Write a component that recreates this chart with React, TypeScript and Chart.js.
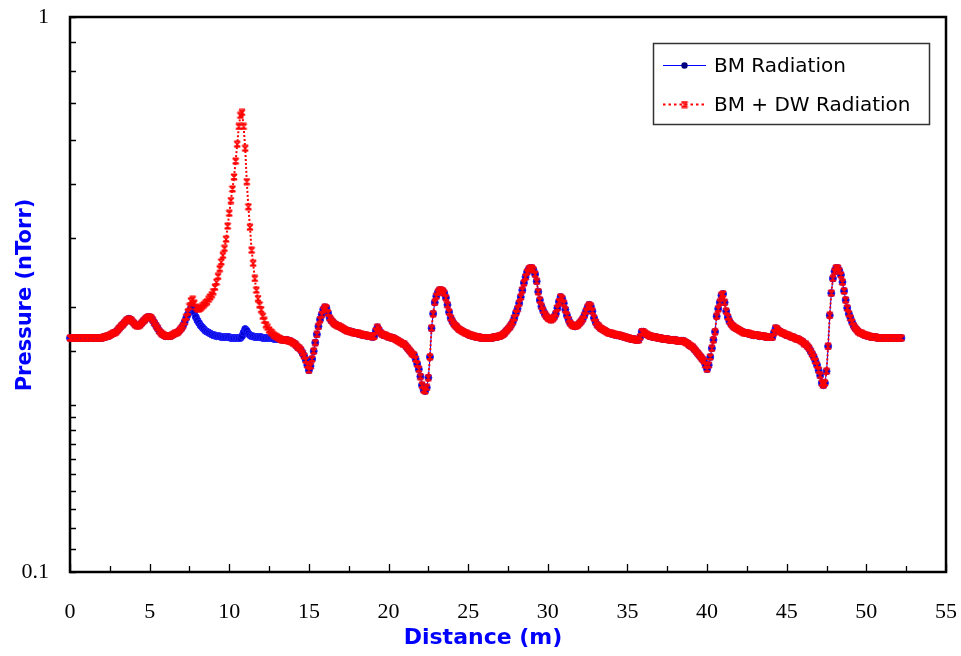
import React, { useEffect, useRef } from 'react';
import { Chart, registerables } from 'chart.js';

Chart.register(...registerables);

// ---- Data (pressure in nTorr, sampled every 0.1 m from 0 m) ----
const distanceStart = 0;
const distanceStep = 0.1;

const bmRadiation = [
  0.264, 0.264, 0.264, 0.264, 0.264, 0.264, 0.264, 0.264, 0.264, 0.264,
  0.264, 0.264, 0.264, 0.264, 0.264, 0.264, 0.264, 0.264, 0.264, 0.264,
  0.264, 0.265, 0.265, 0.266, 0.266, 0.267, 0.268, 0.269, 0.270, 0.271,
  0.273, 0.275, 0.277, 0.279, 0.281, 0.283, 0.285, 0.286, 0.285, 0.283,
  0.281, 0.279, 0.278, 0.278, 0.279, 0.281, 0.283, 0.285, 0.287, 0.288,
  0.288, 0.287, 0.284, 0.281, 0.278, 0.275, 0.272, 0.270, 0.268, 0.267,
  0.266, 0.266, 0.266, 0.266, 0.267, 0.268, 0.269, 0.270, 0.271, 0.273,
  0.275, 0.278, 0.282, 0.287, 0.291, 0.295, 0.299, 0.300, 0.294, 0.288,
  0.284, 0.281, 0.278, 0.276, 0.274, 0.272, 0.271, 0.270, 0.269, 0.268,
  0.267, 0.267, 0.266, 0.266, 0.266, 0.265, 0.265, 0.265, 0.265, 0.265,
  0.265, 0.264, 0.264, 0.264, 0.264, 0.264, 0.264, 0.264, 0.266, 0.270,
  0.274, 0.272, 0.269, 0.267, 0.266, 0.266, 0.265, 0.265, 0.265, 0.265,
  0.265, 0.264, 0.264, 0.264, 0.264, 0.264, 0.264, 0.264, 0.263, 0.263,
  0.263, 0.263, 0.263, 0.262, 0.262, 0.262, 0.262, 0.261, 0.261, 0.260,
  0.259, 0.258, 0.256, 0.254, 0.253, 0.251, 0.248, 0.245, 0.241, 0.236,
  0.231, 0.235, 0.242, 0.250, 0.259, 0.268, 0.277, 0.285, 0.291, 0.297,
  0.300, 0.299, 0.293, 0.287, 0.284, 0.282, 0.280, 0.279, 0.278, 0.277,
  0.276, 0.275, 0.274, 0.273, 0.272, 0.272, 0.271, 0.271, 0.270, 0.270,
  0.269, 0.269, 0.268, 0.268, 0.267, 0.267, 0.267, 0.266, 0.266, 0.266,
  0.265, 0.266, 0.272, 0.276, 0.273, 0.270, 0.268, 0.267, 0.267, 0.266,
  0.265, 0.265, 0.264, 0.264, 0.263, 0.262, 0.261, 0.260, 0.259, 0.258,
  0.257, 0.255, 0.253, 0.251, 0.249, 0.247, 0.246, 0.242, 0.237, 0.232,
  0.225, 0.217, 0.213, 0.212, 0.215, 0.224, 0.244, 0.275, 0.292, 0.306,
  0.314, 0.319, 0.322, 0.322, 0.321, 0.318, 0.312, 0.303, 0.294, 0.287,
  0.283, 0.280, 0.278, 0.276, 0.274, 0.273, 0.272, 0.271, 0.270, 0.269,
  0.268, 0.267, 0.267, 0.266, 0.266, 0.265, 0.265, 0.265, 0.264, 0.264,
  0.264, 0.264, 0.264, 0.264, 0.264, 0.264, 0.265, 0.265, 0.265, 0.266,
  0.266, 0.267, 0.268, 0.270, 0.272, 0.274, 0.276, 0.279, 0.282, 0.287,
  0.293, 0.298, 0.305, 0.313, 0.322, 0.332, 0.340, 0.347, 0.351, 0.353,
  0.353, 0.350, 0.344, 0.334, 0.320, 0.309, 0.301, 0.296, 0.292, 0.289,
  0.287, 0.286, 0.285, 0.286, 0.288, 0.292, 0.299, 0.307, 0.313, 0.311,
  0.305, 0.297, 0.290, 0.285, 0.281, 0.279, 0.278, 0.277, 0.278, 0.279,
  0.281, 0.283, 0.286, 0.290, 0.295, 0.300, 0.303, 0.301, 0.295, 0.287,
  0.282, 0.279, 0.277, 0.275, 0.274, 0.273, 0.272, 0.271, 0.270, 0.269,
  0.269, 0.268, 0.268, 0.267, 0.267, 0.267, 0.266, 0.266, 0.265, 0.265,
  0.264, 0.264, 0.263, 0.263, 0.263, 0.262, 0.262, 0.262, 0.265, 0.271,
  0.271, 0.269, 0.268, 0.267, 0.266, 0.266, 0.265, 0.265, 0.265, 0.264,
  0.264, 0.264, 0.263, 0.263, 0.263, 0.263, 0.262, 0.262, 0.262, 0.262,
  0.262, 0.261, 0.261, 0.261, 0.261, 0.261, 0.260, 0.259, 0.258, 0.256,
  0.255, 0.254, 0.252, 0.250, 0.248, 0.246, 0.244, 0.242, 0.240, 0.236,
  0.232, 0.236, 0.244, 0.253, 0.262, 0.271, 0.289, 0.298, 0.306, 0.315,
  0.317, 0.306, 0.295, 0.288, 0.283, 0.280, 0.278, 0.276, 0.275, 0.274,
  0.273, 0.272, 0.271, 0.270, 0.270, 0.269, 0.269, 0.268, 0.268, 0.267,
  0.267, 0.267, 0.267, 0.266, 0.266, 0.266, 0.266, 0.265, 0.265, 0.265,
  0.265, 0.265, 0.270, 0.275, 0.274, 0.272, 0.271, 0.270, 0.269, 0.268,
  0.267, 0.267, 0.266, 0.265, 0.265, 0.264, 0.263, 0.263, 0.262, 0.261,
  0.260, 0.258, 0.257, 0.255, 0.253, 0.250, 0.247, 0.244, 0.240, 0.236,
  0.231, 0.226, 0.219, 0.217, 0.219, 0.230, 0.255, 0.290, 0.318, 0.338,
  0.348, 0.353, 0.353, 0.349, 0.343, 0.333, 0.321, 0.309, 0.299, 0.292,
  0.287, 0.282, 0.278, 0.275, 0.273, 0.271, 0.270, 0.269, 0.268, 0.267,
  0.267, 0.266, 0.266, 0.265, 0.265, 0.265, 0.265, 0.264, 0.264, 0.264,
  0.264, 0.264, 0.264, 0.264, 0.264, 0.264, 0.264, 0.264, 0.264, 0.264,
  0.264, 0.264, 0.264,
];

// BM + DW differs from BM only around the DW source (7.3 m .. 13.1 m)
const dwPeakStart = 7.3;
const dwPeakValues = [
  0.288, 0.294, 0.301, 0.308, 0.310, 0.305, 0.300, 0.298, 0.298, 0.299,
  0.301, 0.303, 0.305, 0.307, 0.310, 0.313, 0.316, 0.320, 0.326, 0.333,
  0.341, 0.352, 0.362, 0.372, 0.383, 0.398, 0.420, 0.443, 0.467, 0.490,
  0.515, 0.550, 0.590, 0.635, 0.665, 0.673, 0.635, 0.580, 0.505, 0.455,
  0.418, 0.380, 0.360, 0.338, 0.322, 0.311, 0.303, 0.297, 0.289, 0.284,
  0.279, 0.276, 0.273, 0.271, 0.269, 0.267, 0.266, 0.265, 0.264,
];

const xTickValues = [0, 5, 10, 15, 20, 25, 30, 35, 40, 45, 50, 55];
const yTickLabels = ['0.1', '1'];
const seriesLabels = ['BM Radiation', 'BM + DW Radiation'];
const xTitle = 'Distance (m)';
const yTitle = 'Pressure (nTorr)';

const FONT_SANS = '"Comic Sans MS", "DejaVu Sans", sans-serif';
const FONT_SERIF = '"Times New Roman", "Liberation Serif", serif';

function makeHourglass(): HTMLCanvasElement {
  const c = document.createElement('canvas');
  c.width = 8;
  c.height = 8;
  const g = c.getContext('2d')!;
  g.strokeStyle = '#FF0000';
  g.lineWidth = 1.6;
  g.beginPath();
  g.moveTo(1, 1.2); g.lineTo(7, 6.8);
  g.moveTo(7, 1.2); g.lineTo(1, 6.8);
  g.moveTo(1, 1.2); g.lineTo(7, 1.2);
  g.moveTo(1, 6.8); g.lineTo(7, 6.8);
  g.stroke();
  return c;
}

export default function App() {
  const canvasRef = useRef<HTMLCanvasElement | null>(null);

  useEffect(() => {
    const canvas = canvasRef.current;
    if (!canvas) return;

    const xOf = (i: number) => Math.round((distanceStart + i * distanceStep) * 10) / 10;
    const startIdx = Math.round((dwPeakStart - distanceStart) / distanceStep);
    const bmPoints = bmRadiation.map((v, i) => ({ x: xOf(i), y: v }));
    const dwPoints = bmRadiation.map((v, i) => ({
      x: xOf(i),
      y: i >= startIdx && i < startIdx + dwPeakValues.length ? dwPeakValues[i - startIdx] : v,
    }));

    const hourglass = makeHourglass();

    const decorPlugin = {
      id: 'decor',
      beforeDatasetsDraw(chart: any) {
        const { ctx, chartArea: a, scales } = chart;
        const xs = scales.x;
        const ys = scales.y;
        ctx.save();
        ctx.strokeStyle = '#000';
        ctx.lineWidth = 1.3;
        ctx.beginPath();
        for (let k = 0; k < xTickValues.length; k++) {
          const v = xTickValues[k];
          const px = Math.round(xs.getPixelForValue(v)) + 0.5;
          ctx.moveTo(px, a.bottom);
          ctx.lineTo(px, a.bottom - 8);
          if (k < xTickValues.length - 1) {
            const mv = (v + xTickValues[k + 1]) / 2;
            const mpx = Math.round(xs.getPixelForValue(mv)) + 0.5;
            ctx.moveTo(mpx, a.bottom);
            ctx.lineTo(mpx, a.bottom - 6);
          }
        }
        for (const t of ys.ticks) {
          const py = Math.round(ys.getPixelForValue(t.value)) + 0.5;
          ctx.moveTo(a.left, py);
          ctx.lineTo(a.left + 6, py);
        }
        ctx.stroke();
        ctx.lineWidth = 2.5;
        ctx.strokeRect(a.left, a.top, a.right - a.left, a.bottom - a.top);
        ctx.restore();
      },
      afterDraw(chart: any) {
        const { ctx } = chart;
        ctx.save();
        // axis titles
        ctx.fillStyle = '#0000FF';
        ctx.textAlign = 'center';
        ctx.textBaseline = 'middle';
        ctx.font = `bold 22px ${FONT_SANS}`;
        ctx.fillText(xTitle, 483, 638);
        ctx.translate(25.5, 295);
        ctx.rotate(-Math.PI / 2);
        ctx.font = `bold 21px ${FONT_SANS}`;
        ctx.fillText(yTitle, 0, 0);
        ctx.restore();

        // legend
        ctx.save();
        const bx = 653.5, by = 43.5, bw = 276, bh = 81;
        ctx.fillStyle = '#FFFFFF';
        ctx.fillRect(bx, by, bw, bh);
        ctx.strokeStyle = '#333';
        ctx.lineWidth = 1.5;
        ctx.strokeRect(bx, by, bw, bh);

        const y1 = 65.5, y2 = 104.5;
        // entry 1
        ctx.strokeStyle = '#0000FF';
        ctx.lineWidth = 1.2;
        ctx.beginPath();
        ctx.moveTo(663, y1); ctx.lineTo(706, y1);
        ctx.stroke();
        ctx.fillStyle = '#000080';
        ctx.beginPath();
        ctx.arc(684.5, y1, 3.2, 0, Math.PI * 2);
        ctx.fill();
        // entry 2
        ctx.strokeStyle = '#FF0000';
        ctx.lineWidth = 2;
        ctx.setLineDash([2.5, 3]);
        ctx.beginPath();
        ctx.moveTo(663, y2); ctx.lineTo(706, y2);
        ctx.stroke();
        ctx.setLineDash([]);
        ctx.drawImage(hourglass, 684.5 - 4, y2 - 4);

        ctx.fillStyle = '#000';
        ctx.textAlign = 'left';
        ctx.textBaseline = 'middle';
        ctx.font = `20px ${FONT_SANS}`;
        ctx.fillText(seriesLabels[0], 714, y1 + 1);
        ctx.fillText(seriesLabels[1], 714, y2 + 1);
        ctx.restore();
      },
    };

    const chart = new Chart(canvas, {
      type: 'line',
      data: {
        datasets: [
          {
            label: seriesLabels[0],
            data: bmPoints,
            borderColor: '#0000FF',
            borderWidth: 1,
            pointStyle: 'circle',
            pointRadius: 3.5,
            pointBackgroundColor: '#0000D0',
            pointBorderColor: '#2020FF',
            pointBorderWidth: 1,
            tension: 0,
            clip: false,
            order: 1,
          } as any,
          {
            label: seriesLabels[1],
            data: dwPoints,
            borderColor: '#FF0000',
            borderWidth: 2,
            borderDash: [2, 2],
            pointStyle: hourglass,
            pointRadius: 4,
            tension: 0,
            clip: false,
            order: 0,
          } as any,
        ],
      },
      options: {
        responsive: false,
        animation: false,
        events: [],
        layout: { padding: { left: 0, top: 17, right: 15, bottom: 0 } },
        plugins: {
          legend: { display: false },
          tooltip: { enabled: false },
          title: { display: false },
        },
        scales: {
          x: {
            type: 'linear',
            min: 0,
            max: 55,
            grid: { display: false, drawTicks: false },
            border: { display: false },
            ticks: {
              stepSize: 5,
              autoSkip: false,
              maxRotation: 0,
              padding: 27,
              color: '#000',
              font: { family: FONT_SERIF, size: 22 },
              callback: (v: any) => String(v),
            },
            afterFit: (s: any) => {
              s.height = 84;
              s.paddingLeft = 0;
              s.paddingRight = 0;
            },
          },
          y: {
            type: 'logarithmic',
            min: 0.1,
            max: 1,
            grid: { display: false, drawTicks: false },
            border: { display: false },
            ticks: {
              autoSkip: false,
              padding: 21,
              color: '#000',
              font: { family: FONT_SERIF, size: 22 },
              callback: (v: any) => {
                const n = Number(v);
                if (Math.abs(n - 0.1) < 1e-9) return yTickLabels[0];
                if (Math.abs(n - 1) < 1e-9) return yTickLabels[1];
                return '';
              },
            },
            afterFit: (s: any) => {
              s.width = 70;
              s.paddingTop = 0;
              s.paddingBottom = 0;
            },
          },
        },
      },
      plugins: [decorPlugin],
    });

    return () => chart.destroy();
  }, []);

  return (
    <div style={{ position: 'absolute', left: 0, top: 0, width: 961, height: 656, background: '#fff' }}>
      <canvas ref={canvasRef} width={961} height={656} style={{ display: 'block' }} />
    </div>
  );
}
